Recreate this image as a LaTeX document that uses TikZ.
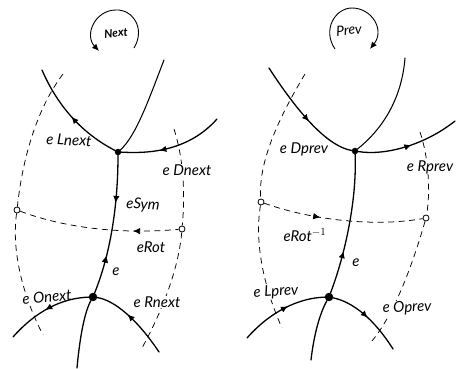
\documentclass[tikz,border=0pt]{standalone}
\usepackage{fontspec}
\setmainfont{Lato}
\usetikzlibrary{arrows.meta,decorations.markings}
\tikzset{
 edgeline/.style={line width=1.3pt,black,line cap=round},
 thinedge/.style={line width=1.05pt,black,line cap=round},
 dualline/.style={line width=0.75pt,black,dash pattern=on 6pt off 4.5pt},
 vertexdot/.style={circle,fill=black,draw=black,inner sep=0pt,minimum size=6pt},
 facedot/.style={circle,fill=white,draw=black,line width=0.8pt,inner sep=0pt,minimum size=6pt},
 lab/.style={font=\fontsize{15}{15}\selectfont\itshape,fill=white,inner sep=0.5pt},
 boldlab/.style={font=\fontsize{11.5}{12}\selectfont\itshape\bfseries,inner sep=0pt},
 fwd/.style={postaction={decorate},decoration={markings,mark=at position #1 with {\arrow{Latex[length=7pt,width=6.5pt]}}}},
 bwd/.style={postaction={decorate},decoration={markings,mark=at position #1 with {\arrow{Latex[length=7pt,width=6.5pt,reversed]}}}},
 circarrow/.style={line width=0.9pt,-{Latex[length=7pt,width=6pt]}},
}
\begin{document}
\begin{tikzpicture}[x=1pt,y=-1pt]
\useasboundingbox (0,0) rectangle (459,369);
% ---------- left: vertices and free ends
\node[vertexdot,minimum size=6pt] (d1) at (118,152) {};
\node[vertexdot,minimum size=8pt] (o1) at (93,297) {};
\node[facedot] (l1) at (17,210) {};
\node[facedot] (r1) at (182,229) {};
\coordinate (a1) at (42,70);
\coordinate (b1) at (164,60);
\coordinate (c1) at (217,119);
\coordinate (f1) at (13,337);
\coordinate (g1) at (159,352);
\coordinate (h1) at (77,368);
\coordinate (p1) at (63,74);
\coordinate (q1) at (43,335);
\coordinate (s1) at (174,129);
\coordinate (t1) at (142,348);
\coordinate (n1) at (134,48);
\coordinate (n2) at (116,10);
\coordinate (n3) at (99,51);
% ---------- right: vertices and free ends
\node[vertexdot,minimum size=6pt] (d2) at (355,151) {};
\node[vertexdot,minimum size=8pt] (o2) at (329,297) {};
\node[facedot] (l2) at (261,202) {};
\node[facedot] (r2) at (426,218) {};
\coordinate (a2) at (269,68);
\coordinate (b2) at (405,58);
\coordinate (c2) at (455,121);
\coordinate (f2) at (247,338);
\coordinate (g2) at (393,349);
\coordinate (h2) at (311,360);
\coordinate (p2) at (305,74);
\coordinate (q2) at (282,328);
\coordinate (s2) at (420,132);
\coordinate (t2) at (372,341);
\coordinate (m1) at (335,49);
\coordinate (m2) at (352,8);
\coordinate (m3) at (370,49);
% ---------- dual (dashed) edges
\draw[dualline] (p1) .. controls (38,107) and (23,155) .. (l1);
\draw[dualline] (l1) .. controls (11,255) and (25,300) .. (q1);
\draw[dualline] (s1) .. controls (184,160) and (185,195) .. (r1);
\draw[dualline] (r1) .. controls (179,264) and (166,304) .. (t1);
\draw[dualline,bwd=0.76] (l1) .. controls (70,230) and (130,234) .. (r1);
\draw[dualline] (p2) .. controls (278,119) and (258,163) .. (l2);
\draw[dualline] (l2) .. controls (254,245) and (265,290) .. (q2);
\draw[dualline] (s2) .. controls (428,155) and (431,190) .. (r2);
\draw[dualline] (r2) .. controls (409,277) and (391,318) .. (t2);
\draw[dualline,fwd=0.36] (l2) .. controls (305,218) and (370,228) .. (r2);
% ---------- labels
\node[lab,rotate=-3] (la1) at (69,140) {e Lnext};
\node[lab] (la2) at (187,170) {e Dnext};
\node[lab,rotate=-3] (la3) at (143,205) {eSym};
\node[lab] (la4) at (151,247) {eRot};
\node[lab] (la5) at (116,272) {e};
\node[lab,rotate=5] (la6) at (47,297) {e Onext};
\node[lab] (la7) at (157,302) {e Rnext};
\node[lab] (lb1) at (304,149) {e Dprev};
\node[lab] (lb2) at (430,167) {e Rprev};
\node[lab] (lb3) at (305,235) {eRot$^{-1}$};
\node[lab] (lb4) at (356,263) {e};
\node[lab,rotate=4] (lb5) at (276,292) {e Lprev};
\node[lab,rotate=2] (lb6) at (407,308) {e Oprev};
\node[boldlab,rotate=5] (nx) at (116,33) {Next};
\node[boldlab,font=\fontsize{14}{14}\selectfont\itshape,rotate=5] (pv) at (349,30) {Prev};
% ---------- primal edges, left
\draw[edgeline,fwd=0.5] (d1) .. controls (83,134) and (58,107) .. (a1);
\draw[thinedge] (d1) .. controls (136,136) and (149,99) .. (b1);
\draw[edgeline,bwd=0.43] (d1) .. controls (140,153) and (185,155) .. (c1);
\draw[edgeline,fwd=0.34] (d1) .. controls (118,200) and (112,250) .. (o1);
\path[bwd=0.77] (d1) .. controls (118,200) and (112,250) .. (o1);
\draw[edgeline,fwd=0.52] (o1) .. controls (62,298) and (36,311) .. (f1);
\draw[edgeline,bwd=0.5] (o1) .. controls (114,300) and (137,319) .. (g1);
\draw[edgeline] (o1) .. controls (85,311) and (80,335) .. (h1);
% ---------- primal edges, right
\draw[edgeline,bwd=0.5] (d2) .. controls (330,147) and (302,119) .. (a2);
\draw[thinedge] (d2) .. controls (385,127) and (402,96) .. (b2);
\draw[edgeline,fwd=0.52] (d2) .. controls (385,156) and (425,145) .. (c2);
\draw[edgeline,bwd=0.74] (d2) .. controls (357,200) and (345,255) .. (o2);
\draw[edgeline,bwd=0.5] (o2) .. controls (298,298) and (270,312) .. (f2);
\draw[edgeline,fwd=0.5] (o2) .. controls (353,302) and (374,319) .. (g2);
\draw[edgeline] (o2) .. controls (320,313) and (314,334) .. (h2);
% ---------- rotation arrows
\draw[circarrow] (n1) .. controls (146,28) and (132,9) .. (n2) .. controls (95,10) and (84,35) .. (n3);
\draw[circarrow] (m1) .. controls (322,30) and (335,8) .. (m2) .. controls (372,8) and (385,30) .. (m3);
\end{tikzpicture}
\end{document}
